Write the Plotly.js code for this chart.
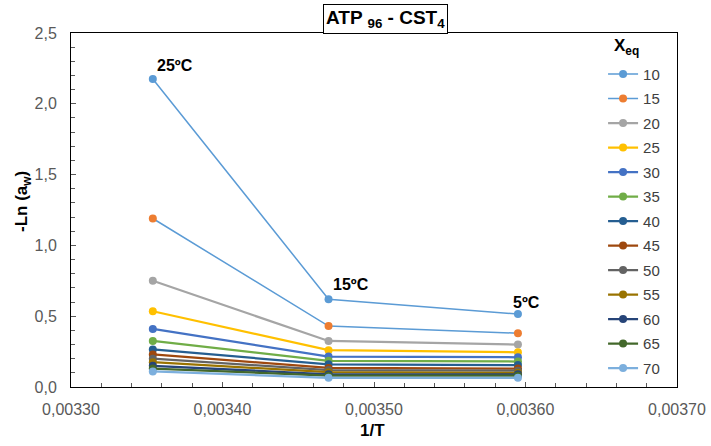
<!DOCTYPE html>
<html>
<head>
<meta charset="utf-8">
<script src="https://cdn.plot.ly/plotly-3.0.1.min.js"></script>
<style>html,body{margin:0;padding:0;background:#fff;}#chart{width:711px;height:446px;}</style>
</head>
<body>
<div id="chart"></div>
<script>
// 1/T values for 25 ºC, 15 ºC, 5 ºC
const invT = [0.003354, 0.003470, 0.003595];
const tempLabels = ["25ºC", "15ºC", "5ºC"];
const seriesNames = ["10","15","20","25","30","35","40","45","50","55","60","65","70"];
const s10 = [2.175, 0.62, 0.515];
const s15 = [1.19, 0.43, 0.38];
const s20 = [0.75, 0.325, 0.30];
const s25 = [0.535, 0.26, 0.245];
const s30 = [0.41, 0.215, 0.21];
const s35 = [0.325, 0.185, 0.18];
const s40 = [0.265, 0.16, 0.155];
const s45 = [0.23, 0.135, 0.13];
const s50 = [0.20, 0.12, 0.115];
const s55 = [0.175, 0.105, 0.10];
const s60 = [0.15, 0.09, 0.09];
const s65 = [0.13, 0.08, 0.08];
const s70 = [0.11, 0.065, 0.065];
const seriesValues = [s10,s15,s20,s25,s30,s35,s40,s45,s50,s55,s60,s65,s70];

const markerColors = ["#5B9BD5","#ED7D31","#A5A5A5","#FFC000","#4472C4","#70AD47","#255E91","#9E480E","#636363","#997300","#264478","#43682B","#7CAFDD"];
const lineColors   = ["#5B9BD5","#5B9BD5","#A5A5A5","#FFC000","#4472C4","#70AD47","#255E91","#9E480E","#636363","#997300","#264478","#43682B","#7CAFDD"];
const lineWidths   = [1.5,1.5,2.25,2.25,2.25,2.25,2.25,2.25,2.25,2.25,2.25,2.25,2.25];

const font = "Liberation Sans, Arial, sans-serif";

const data = seriesNames.map((n,i)=>({
  x: invT, y: seriesValues[i], name: n, legendgroup: "g"+n, type: "scatter", mode: "lines+markers",
  line: {color: lineColors[i], width: lineWidths[i]},
  marker: {color: markerColors[i], size: 8}
}));

const annots = [
  {text: "<b>ATP <sub>96</sub> - CST<sub>4</sub></b>", xref: "paper", yref: "paper", x: 0.519, y: 1.04,
   xanchor: "center", yanchor: "middle", showarrow: false, bordercolor: "#000", borderwidth: 1, borderpad: 2,
   bgcolor: "#fff", font: {family: font, size: 19, color: "#000"}},
  {text: "<b>"+tempLabels[0]+"</b>", x: invT[0], y: s10[0], xanchor: "left", yanchor: "middle", xshift: 2, yshift: 14, showarrow: false, font: {family: font, size: 16, color: "#000"}},
  {text: "<b>"+tempLabels[1]+"</b>", x: invT[1], y: s10[1], xanchor: "left", yanchor: "middle", xshift: 2, yshift: 15, showarrow: false, font: {family: font, size: 16, color: "#000"}},
  {text: "<b>"+tempLabels[2]+"</b>", x: invT[2], y: s10[2], xanchor: "left", yanchor: "middle", xshift: -7, yshift: 12, showarrow: false, font: {family: font, size: 16, color: "#000"}},
  {text: "<b>1/T</b>", xref: "paper", yref: "paper", x: 0.497, y: -0.1215, xanchor: "center", yanchor: "middle", showarrow: false, font: {family: font, size: 17, color: "#000"}},
  {text: "<b>-Ln (a<sub>w</sub>)</b>", xref: "paper", yref: "paper", x: -0.0792, y: 0.5226, textangle: -90, xanchor: "center", yanchor: "middle", showarrow: false, font: {family: font, size: 17, color: "#000"}},
  {text: "<b>X<sub>eq</sub></b>", xref: "paper", yref: "paper", x: 0.893, y: 0.96, xanchor: "left", yanchor: "middle", showarrow: false, font: {family: font, size: 17, color: "#000"}}
];

const layout = {
  width: 711, height: 446,
  margin: {l: 71, r: 34, t: 33, b: 59},
  paper_bgcolor: "#fff", plot_bgcolor: "#fff",
  separators: ",.",
  showlegend: true,
  font: {family: font, size: 14, color: "#595959"},
  xaxis: {
    range: [0.00330, 0.00370], tickvals: [0.00330,0.00340,0.00350,0.00360,0.00370],
    tickformat: ".5f", ticks: "inside", ticklen: 5, tickcolor: "#595959", ticklabelstandoff: 8,
    minor: {dtick: 0.00002, ticks: "inside", ticklen: 4, tickcolor: "#595959"},
    showline: true, linecolor: "#000", linewidth: 1, mirror: true, showgrid: false, zeroline: false,
    tickfont: {family: font, size: 16, color: "#595959"}
  },
  yaxis: {
    range: [0, 2.5], dtick: 0.5, tickformat: ".1f", ticks: "inside", ticklen: 5, tickcolor: "#595959", ticklabelstandoff: 10,
    minor: {dtick: 0.1, ticks: "inside", ticklen: 4, tickcolor: "#595959"},
    showline: true, linecolor: "#000", linewidth: 1, mirror: true, showgrid: false, zeroline: false,
    tickfont: {family: font, size: 16, color: "#595959"}
  },
  legend: {
    x: 0.878, y: 0.93, xanchor: "left", yanchor: "top", traceorder: "grouped", tracegroupgap: 2,
    bgcolor: "rgba(255,255,255,0)", borderwidth: 0,
    font: {family: font, size: 15, color: "#404040"},
    itemwidth: 30
  },
  annotations: annots
};

Plotly.newPlot("chart", data, layout, {displayModeBar: false, staticPlot: true});
</script>
</body>
</html>
